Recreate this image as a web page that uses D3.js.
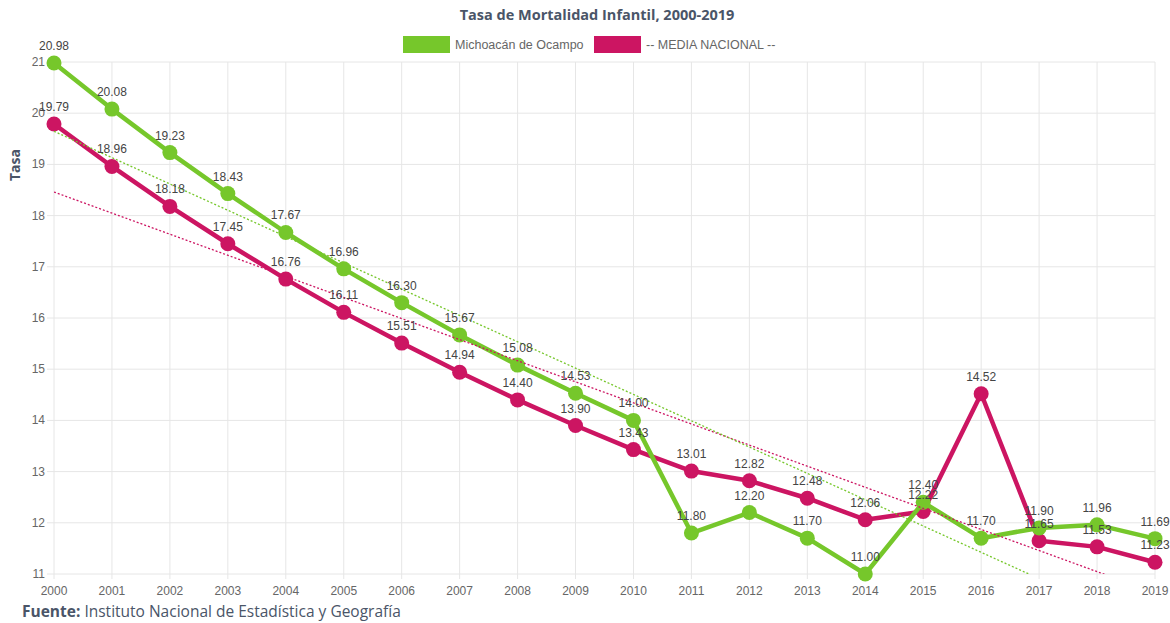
<!DOCTYPE html>
<html>
<head>
<meta charset="utf-8">
<script src="https://cdn.jsdelivr.net/npm/d3@7"></script>
<style>
  body { margin: 0; background: #fff; }
  svg { display: block; font-family: "Liberation Sans", Arial, sans-serif; }
</style>
</head>
<body>
<div id="chart"></div>
<script>
const years = [2000, 2001, 2002, 2003, 2004, 2005, 2006, 2007, 2008, 2009,
               2010, 2011, 2012, 2013, 2014, 2015, 2016, 2017, 2018, 2019];
const michoacan = [20.98, 20.08, 19.23, 18.43, 17.67, 16.96, 16.30, 15.67, 15.08, 14.53,
                   14.00, 11.80, 12.20, 11.70, 11.00, 12.40, 11.70, 11.90, 11.96, 11.69];
const nacional = [19.79, 18.96, 18.18, 17.45, 16.76, 16.11, 15.51, 14.94, 14.40, 13.90,
                  13.43, 13.01, 12.82, 12.48, 12.06, 12.22, 14.52, 11.65, 11.53, 11.23];
const yTicks = [11, 12, 13, 14, 15, 16, 17, 18, 19, 20, 21];
const seriesNames = ["Michoacán de Ocampo", "-- MEDIA NACIONAL --"];

const width = 1170, height = 623;
const green = "#76c72b", pink = "#cc1562";
const slate = "#4a5568";

const svg = d3.select("#chart")
  .append("svg")
    .attr("width", width)
    .attr("height", height);

const x = d3.scaleLinear()
  .domain([2000, 2019])
  .range([54, 1155]);
const y = d3.scaleLinear()
  .domain([11, 21])
  .range([574, 62]);

// grid
svg.append("g")
  .selectAll("line")
  .data(years)
  .join("line")
    .attr("x1", d => x(d)).attr("x2", d => x(d))
    .attr("y1", y(21)).attr("y2", y(11) + 5)
    .attr("stroke", "#e6e6e6");
svg.append("g")
  .selectAll("line")
  .data(yTicks)
  .join("line")
    .attr("x1", x(2000) - 7).attr("x2", x(2019))
    .attr("y1", d => y(d)).attr("y2", d => y(d))
    .attr("stroke", "#e6e6e6");

// axes labels
svg.append("g")
  .selectAll("text")
  .data(yTicks)
  .join("text")
    .attr("x", 45)
    .attr("y", d => y(d) + 4)
    .attr("text-anchor", "end")
    .attr("font-size", 12)
    .attr("fill", "#666")
    .text(d => d);
svg.append("g")
  .selectAll("text")
  .data(years)
  .join("text")
    .attr("x", d => x(d))
    .attr("y", 595)
    .attr("text-anchor", "middle")
    .attr("font-size", 12)
    .attr("fill", "#666")
    .text(d => d);

svg.append("text")
  .attr("transform", `translate(20, 165) rotate(-90)`)
  .attr("text-anchor", "middle")
  .attr("font-family", "'Open Sans', sans-serif")
  .attr("font-weight", 700)
  .attr("font-size", 14)
  .attr("fill", slate)
  .text("Tasa");

// title
svg.append("text")
  .attr("x", 597)
  .attr("y", 20)
  .attr("text-anchor", "middle")
  .attr("font-family", "'Open Sans', sans-serif")
  .attr("font-weight", 700)
  .attr("font-size", 14.5)
  .attr("fill", slate)
  .text("Tasa de Mortalidad Infantil, 2000-2019");

// legend
const legendX = [403, 594];
const legend = svg.append("g")
  .selectAll("g")
  .data(seriesNames)
  .join("g")
    .attr("transform", (d, i) => `translate(${legendX[i]}, 36)`);
legend.append("rect")
  .attr("width", 47)
  .attr("height", 17)
  .attr("fill", (d, i) => i === 0 ? green : pink);
legend.append("text")
  .attr("x", 52)
  .attr("y", 13)
  .attr("font-size", 12.5)
  .attr("fill", "#666")
  .text(d => d);

// clip for trend lines
svg.append("clipPath").attr("id", "area")
  .append("rect")
    .attr("x", x(2000)).attr("y", y(21))
    .attr("width", x(2019) - x(2000)).attr("height", y(11) - y(21));

// least squares trend, like chart trendline plugin
function trend(vals) {
  const mx = d3.mean(years), my = d3.mean(vals);
  let sxy = 0, sxx = 0;
  years.forEach((yr, i) => { sxy += (yr - mx) * (vals[i] - my); sxx += (yr - mx) ** 2; });
  const b = sxy / sxx;
  return yr => my + b * (yr - mx);
}

const line = d3.line()
  .x((d, i) => x(years[i]))
  .y(d => y(d));

const series = [
  {vals: nacional, color: pink},
  {vals: michoacan, color: green}
];

series.forEach(s => {
  svg.append("path")
    .datum(s.vals)
    .attr("d", line)
    .attr("fill", "none")
    .attr("stroke", s.color)
    .attr("stroke-width", 4.5)
    .attr("stroke-linejoin", "round");
  svg.append("g")
    .selectAll("circle")
    .data(s.vals)
    .join("circle")
      .attr("cx", (d, i) => x(years[i]))
      .attr("cy", d => y(d))
      .attr("r", 7.5)
      .attr("fill", s.color);
});

// trend lines on top
series.forEach(s => {
  const f = trend(s.vals);
  svg.append("line")
    .attr("clip-path", "url(#area)")
    .attr("x1", x(2000)).attr("y1", y(f(2000)))
    .attr("x2", x(2019)).attr("y2", y(f(2019)))
    .attr("stroke", s.color)
    .attr("stroke-width", 1.3)
    .attr("stroke-dasharray", "2,2");
});

// data labels
series.forEach(s => {
  svg.append("g")
    .selectAll("text")
    .data(s.vals)
    .join("text")
      .attr("x", (d, i) => x(years[i]))
      .attr("y", d => y(d) - 13)
      .attr("text-anchor", "middle")
      .attr("font-size", 12)
      .attr("fill", "#444")
      .text(d => d.toFixed(2));
});

// source
const src = svg.append("text")
  .attr("x", 22)
  .attr("y", 617)
  .attr("font-family", "'Open Sans', sans-serif")
  .attr("font-size", 15.5)
  .attr("fill", slate);
src.append("tspan").attr("font-weight", 700).text("Fuente:");
src.append("tspan").text(" Instituto Nacional de Estadística y Geografía");
</script>
</body>
</html>
